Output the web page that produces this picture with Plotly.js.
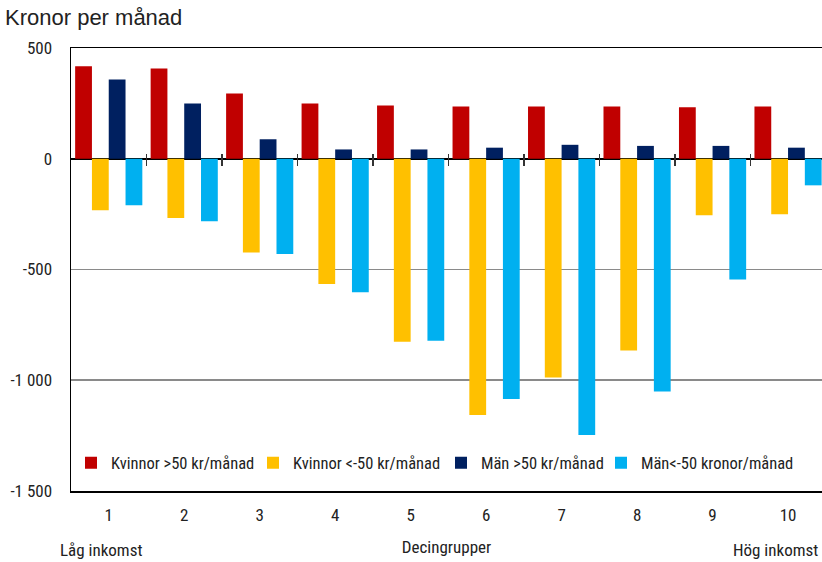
<!DOCTYPE html>
<html>
<head>
<meta charset="utf-8">
<script src="https://cdn.plot.ly/plotly-3.0.1.min.js"></script>
<style>html,body{margin:0;padding:0;background:#fff}#chart{width:822px;height:562px}</style>
</head>
<body>
<div id="chart"></div>
<script>
const categories = [1, 2, 3, 4, 5, 6, 7, 8, 9, 10];
const categoryLabels = ['1', '2', '3', '4', '5', '6', '7', '8', '9', '10'];
const kvinnorPlus = [418, 408, 295, 250, 240, 236, 236, 236, 232, 236];
const kvinnorMinus = [-232, -268, -423, -565, -826, -1157, -988, -866, -255, -250];
const manPlus = [358, 250, 88, 42, 42, 50, 63, 58, 58, 50];
const manMinus = [-210, -282, -430, -603, -822, -1085, -1247, -1051, -545, -120];
const seriesNames = ['Kvinnor >50 kr/månad', 'Kvinnor <-50 kr/månad', 'Män >50 kr/månad', 'Män<-50 kronor/månad'];
const seriesColors = ['#C00000', '#FFC000', '#002060', '#00B0F0'];
const boundaryTicks = [1.5, 2.5, 3.5, 4.5, 5.5, 6.5, 7.5, 8.5, 9.5];
const yTickVals = [-1500, -1000, -500, 0, 500];
const yTickText = ['-1 500', '-1 000', '-500', '0', '500'];

const narrow = '"Roboto Condensed", "Liberation Sans Narrow", "DejaVu Sans Condensed", sans-serif';
const fs = 17;
const legendWidths = [137, 143, 115, 150];
const seriesData = [kvinnorPlus, kvinnorMinus, manPlus, manMinus];

const traces = seriesData.map((vals, i) => ({
  type: 'bar',
  x: categories,
  y: vals,
  name: seriesNames[i],
  legendwidth: legendWidths[i],
  marker: {color: seriesColors[i], line: {width: 0}},
  hoverinfo: 'skip'
}));
traces.push({
  type: 'scatter', mode: 'markers', x: [], y: [], xaxis: 'x2', yaxis: 'y',
  showlegend: false, hoverinfo: 'skip'
});

const xRange = [0.5, 10.45];
const layout = {
  width: 822, height: 562,
  margin: {l: 71, r: 0, t: 48, b: 71, pad: 0},
  paper_bgcolor: '#ffffff', plot_bgcolor: '#ffffff',
  barmode: 'group', bargap: 0.11, bargroupgap: 0,
  font: {family: narrow, size: fs, color: '#222'},
  showlegend: true,
  legend: {
    orientation: 'h', x: 0.0, xanchor: 'left', y: 0.063, yanchor: 'middle',
    bgcolor: 'rgba(0,0,0,0)', font: {family: narrow, size: 16.5, color: '#222'},
    itemwidth: 30, traceorder: 'normal', entrywidthmode: 'pixels'
  },
  xaxis: {
    range: xRange, tickvals: categories, ticktext: categoryLabels,
    ticks: '', showgrid: false, zeroline: false,
    showline: true, mirror: true, linecolor: '#000', linewidth: 1.5,
    ticklabelstandoff: 8,
    tickfont: {family: narrow, size: fs, color: '#222'},
    title: {text: 'Decingrupper', standoff: 17, font: {family: narrow, size: fs, color: '#222'}}
  },
  xaxis2: {
    range: xRange, overlaying: 'x', anchor: 'free',
    position: (25 + 1500) / 2000,
    tickvals: boundaryTicks, ticks: 'outside', ticklen: 12, tickwidth: 1.5, tickcolor: '#333',
    showticklabels: false, showgrid: false, zeroline: false, showline: false
  },
  yaxis: {
    range: [-1500, 500], tickvals: yTickVals, ticktext: yTickText,
    ticks: '', showgrid: true, gridcolor: '#8a8a8a', gridwidth: 1.6,
    zeroline: true, zerolinecolor: '#000', zerolinewidth: 2,
    showline: true, mirror: false, linecolor: '#000', linewidth: 1.5,
    ticklabelstandoff: 14,
    tickfont: {family: narrow, size: fs, color: '#222'}
  },
  title: {
    text: 'Kronor per månad', x: 5/822, xanchor: 'left', xref: 'container',
    y: 1 - 17/562, yanchor: 'middle', yref: 'container',
    font: {family: '"Liberation Sans", Arial, sans-serif', size: 22, color: '#222'}
  },
  annotations: [
    {text: 'Låg inkomst', xref: 'paper', yref: 'paper', x: (58-71)/751, xanchor: 'left',
     y: -59/443, yanchor: 'middle', showarrow: false,
     font: {family: narrow, size: fs, color: '#222'}},
    {text: 'Hög inkomst', xref: 'paper', yref: 'paper', x: (820-71)/751, xanchor: 'right',
     y: -59/443, yanchor: 'middle', showarrow: false,
     font: {family: narrow, size: fs, color: '#222'}}
  ]
};

Plotly.newPlot('chart', traces, layout, {staticPlot: true, displayModeBar: false});
</script>
</body>
</html>
